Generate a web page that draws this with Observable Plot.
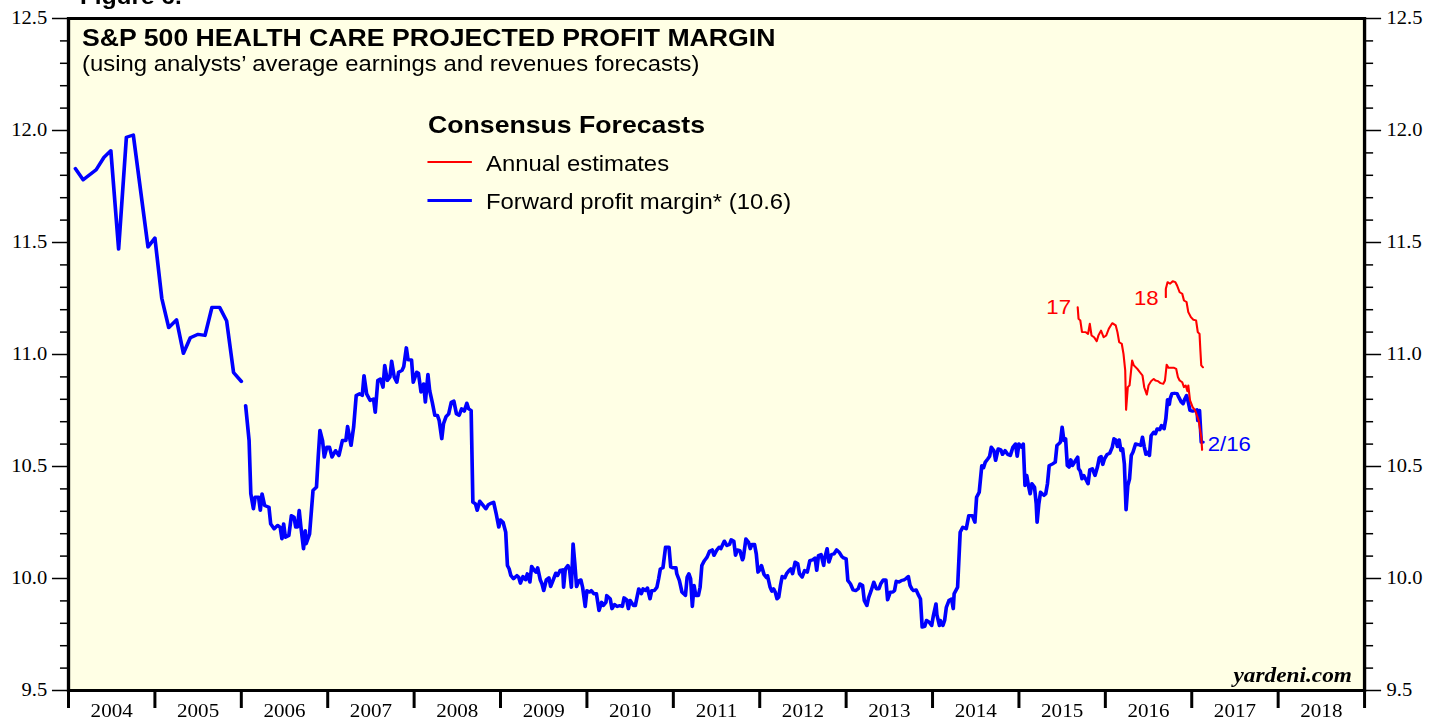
<!DOCTYPE html>
<html><head><meta charset="utf-8">
<script src="https://cdn.jsdelivr.net/npm/d3@7"></script>
<script src="https://cdn.jsdelivr.net/npm/@observablehq/plot@0.6"></script>
<style>
html,body{margin:0;padding:0;background:#fff;overflow:hidden}
#wrap{position:relative;width:1296px;height:719px;transform:scaleX(1.1103);transform-origin:0 0}
.ov{position:absolute;white-space:nowrap;font-family:"Liberation Sans",Arial,sans-serif;color:#000}
.b{font-weight:bold;font-size:24px;line-height:24px}
.r{font-size:21.5px;line-height:21px}
.sw{position:absolute;left:384.6px;width:40.5px}
</style></head><body>
<div id="wrap">
<div id="chart"></div>
<div class="ov b" style="left:72px;top:-14px;font-size:22px;line-height:22px">Figure 6.</div>
<div class="ov b" style="left:73.9px;top:26.4px">S&amp;P 500 HEALTH CARE PROJECTED PROFIT MARGIN</div>
<div class="ov r" style="left:73.9px;top:54px">(using analysts’ average earnings and revenues forecasts)</div>
<div class="ov b" style="left:385.5px;top:113px">Consensus Forecasts</div>
<div class="sw" style="top:161.3px;height:2px;background:#ff0000"></div>
<div class="ov r" style="left:437.7px;top:153.7px">Annual estimates</div>
<div class="sw" style="top:198.6px;height:3.3px;background:#0000ff"></div>
<div class="ov r" style="left:437.7px;top:192px">Forward profit margin* (10.6)</div>
<div class="ov" style="left:0;width:1217.7px;text-align:right;top:665px;font-family:'Liberation Serif',serif;font-weight:bold;font-style:italic;font-size:21px;line-height:20px">yardeni.com</div>
</div>
<script>
// Y-axis ticks
const yMajorTicks = [9.5, 10.0, 10.5, 11.0, 11.5, 12.0, 12.5];
const yMinorTicks = [9.6,9.7,9.8,9.9,10.1,10.2,10.3,10.4,10.6,10.7,10.8,10.9,11.1,11.2,11.3,11.4,11.6,11.7,11.8,11.9,12.1,12.2,12.3,12.4];
const yearBounds = [2004,2005,2006,2007,2008,2009,2010,2011,2012,2013,2014,2015,2016,2017,2018,2019];
const yearLabels = [2004,2005,2006,2007,2008,2009,2010,2011,2012,2013,2014,2015,2016,2017,2018];

// Forward profit margin, monthly 2004-2005
const fwdEarlyT = [2004.08,2004.17,2004.32,2004.41,2004.49,2004.58,2004.67,2004.75,2004.92,2005.00,2005.08,2005.16,2005.25,2005.33,2005.41,2005.50,2005.58,2005.66,2005.75,2005.83,2005.91,2006.00];
const fwdEarlyV = [11.83,11.78,11.825,11.88,11.91,11.47,11.97,11.98,11.48,11.52,11.25,11.12,11.155,11.005,11.075,11.09,11.085,11.21,11.21,11.15,10.92,10.88];

// Forward profit margin, weekly 2006 - 2/16/2017
const fwdT = [
2006.05,2006.09,2006.11,2006.14,2006.16,2006.20,2006.22,2006.24,2006.27,2006.32,2006.34,2006.38,2006.42,2006.45,2006.47,2006.49,2006.51,2006.55,2006.58,2006.61,2006.63,2006.65,2006.67,2006.69,2006.72,2006.74,2006.75,2006.79,2006.83,2006.87,2006.89,2006.91,2006.94,2006.96,2006.99,
2007.02,2007.05,2007.09,2007.13,2007.17,2007.21,2007.23,2007.27,2007.30,2007.33,2007.37,2007.40,2007.42,2007.45,2007.49,2007.53,2007.55,2007.58,2007.61,2007.64,2007.66,2007.69,2007.72,2007.74,2007.77,2007.80,2007.82,2007.86,2007.88,2007.91,2007.93,2007.97,2007.99,
2008.03,2008.05,2008.08,2008.11,2008.13,2008.16,2008.18,2008.21,2008.24,2008.27,2008.29,2008.32,2008.34,2008.37,2008.40,2008.43,2008.46,2008.49,2008.52,2008.55,2008.58,2008.61,2008.63,2008.66,2008.68,2008.71,2008.73,2008.76,2008.80,2008.83,2008.86,2008.89,2008.92,2008.95,2008.98,
2009.00,2009.03,2009.06,2009.08,2009.10,2009.12,2009.15,2009.19,2009.21,2009.23,2009.26,2009.29,2009.31,2009.34,2009.36,2009.39,2009.41,2009.43,2009.46,2009.48,2009.50,2009.53,2009.56,2009.58,2009.61,2009.64,2009.66,2009.69,2009.72,2009.73,2009.75,2009.78,2009.80,2009.82,2009.84,2009.86,2009.88,2009.91,2009.93,2009.95,2009.98,
2010.00,2010.03,2010.05,2010.08,2010.11,2010.14,2010.17,2010.19,2010.22,2010.23,2010.27,2010.29,2010.32,2010.35,2010.38,2010.41,2010.43,2010.46,2010.48,2010.50,2010.54,2010.56,2010.58,2010.60,2010.63,2010.65,2010.68,2010.70,2010.73,2010.75,2010.78,2010.81,2010.83,2010.85,2010.88,2010.91,2010.95,2010.97,2010.99,
2011.03,2011.04,2011.07,2011.10,2011.12,2011.14,2011.16,2011.18,2011.20,2011.22,2011.24,2011.26,2011.29,2011.31,2011.33,2011.36,2011.39,2011.42,2011.45,2011.47,2011.50,2011.53,2011.55,2011.59,2011.62,2011.65,2011.67,2011.70,2011.72,2011.74,2011.77,2011.80,2011.81,2011.84,2011.87,2011.89,2011.91,2011.94,2011.96,2011.98,
2012.00,2012.02,2012.05,2012.08,2012.09,2012.12,2012.14,2012.16,2012.18,2012.20,2012.22,2012.24,2012.26,2012.29,2012.31,2012.34,2012.36,2012.38,2012.41,2012.44,2012.46,2012.49,2012.52,2012.55,2012.58,2012.61,2012.64,2012.66,2012.68,2012.71,2012.74,2012.75,2012.78,2012.80,2012.83,2012.86,2012.89,2012.92,2012.95,2012.97,
2013.00,2013.02,2013.05,2013.08,2013.11,2013.14,2013.16,2013.19,2013.21,2013.24,2013.26,2013.29,2013.32,2013.35,2013.38,2013.40,2013.43,2013.46,2013.48,2013.51,2013.54,2013.56,2013.58,2013.61,2013.64,2013.67,2013.69,2013.72,2013.74,2013.76,2013.78,2013.81,2013.84,2013.86,2013.88,2013.91,2013.93,2013.96,2013.99,
2014.01,2014.04,2014.05,2014.08,2014.09,2014.12,2014.14,2014.16,2014.19,2014.22,2014.24,2014.25,2014.29,2014.32,2014.35,2014.39,2014.42,2014.46,2014.49,2014.51,2014.54,2014.57,2014.59,2014.61,2014.64,2014.66,2014.68,2014.71,2014.73,2014.76,2014.79,2014.81,2014.84,2014.87,2014.90,2014.93,2014.96,2014.98,
2015.00,2015.03,2015.05,2015.07,2015.09,2015.11,2015.13,2015.15,2015.18,2015.20,2015.21,2015.23,2015.25,2015.29,2015.31,2015.33,2015.35,2015.39,2015.42,2015.44,2015.46,2015.48,2015.50,2015.52,2015.54,2015.56,2015.58,2015.60,2015.62,2015.65,2015.68,2015.69,2015.71,2015.73,2015.75,2015.78,2015.80,2015.82,2015.85,2015.88,2015.91,2015.93,2015.95,2015.97,2015.99,
2016.02,2016.05,2016.08,2016.10,2016.12,2016.14,2016.16,2016.18,2016.20,2016.22,2016.24,2016.26,2016.28,2016.30,2016.32,2016.35,2016.38,2016.41,2016.43,2016.45,2016.47,2016.49,2016.51,2016.53,2016.56,2016.58,2016.60,2016.63,2016.65,2016.68,2016.70,2016.72,2016.74,2016.75,2016.77,2016.80,2016.83,2016.85,2016.88,2016.90,2016.92,2016.94,2016.96,2016.98,
2017.01,2017.04,2017.06,2017.07,2017.09,2017.11,2017.13];
const fwdV = [
10.772,10.616,10.378,10.311,10.363,10.363,10.304,10.378,10.326,10.318,10.244,10.222,10.237,10.229,10.177,10.244,10.184,10.192,10.281,10.274,10.229,10.229,10.304,10.229,10.132,10.214,10.155,10.199,10.393,10.408,10.542,10.661,10.616,10.542,10.586,
10.586,10.542,10.571,10.549,10.616,10.616,10.679,10.594,10.676,10.817,10.825,10.817,10.906,10.825,10.795,10.802,10.742,10.884,10.891,10.854,10.951,10.884,10.899,10.970,10.899,10.876,10.921,10.929,10.946,11.030,10.976,10.976,10.876,
10.921,10.917,10.832,10.869,10.787,10.911,10.839,10.787,10.728,10.728,10.705,10.624,10.691,10.723,10.735,10.787,10.792,10.735,10.728,10.758,10.747,10.783,10.758,10.750,10.341,10.333,10.304,10.345,10.326,10.311,10.330,10.336,10.341,10.289,10.229,
10.262,10.251,10.207,10.058,10.043,10.013,9.999,10.013,10.006,9.979,10.009,9.994,10.021,9.984,10.054,10.036,10.028,10.048,9.994,9.976,9.946,9.994,10.003,9.964,9.994,10.024,10.013,10.036,10.039,9.961,10.043,10.058,10.036,9.961,10.155,10.066,9.964,9.991,9.994,9.961,9.875,
9.946,9.939,9.946,9.932,9.932,9.857,9.894,9.879,9.894,9.924,9.909,9.865,9.884,9.875,9.879,9.875,9.914,9.905,9.865,9.902,9.879,9.879,9.917,9.954,9.932,9.954,9.946,9.958,9.909,9.946,9.946,9.961,9.999,10.043,10.048,10.140,10.140,10.051,10.048,
10.048,10.021,9.991,9.939,9.932,9.924,10.006,10.021,9.999,9.875,9.969,9.924,9.924,9.961,10.058,10.080,10.095,10.122,10.128,10.103,10.125,10.140,10.133,10.167,10.147,10.152,10.173,10.167,10.103,10.128,10.125,10.083,10.092,10.177,10.162,10.133,10.152,10.152,10.110,10.028,
10.039,10.058,10.018,10.003,10.013,9.961,9.943,9.954,9.939,9.909,9.917,9.969,10.009,10.003,10.021,10.036,10.043,10.021,10.073,10.066,10.021,10.006,10.036,10.028,10.080,10.083,10.092,10.036,10.103,10.107,10.058,10.088,10.133,10.073,10.107,10.110,10.128,10.117,10.098,10.092,
10.088,9.991,9.976,9.949,9.946,9.954,9.976,9.969,9.902,9.879,9.914,9.946,9.984,9.954,9.954,9.976,9.994,9.994,9.905,9.939,9.939,9.946,9.988,9.984,9.991,9.994,9.999,10.009,9.969,9.954,9.946,9.949,9.924,9.909,9.783,9.786,9.813,9.805,9.790,
9.835,9.887,9.839,9.790,9.813,9.790,9.813,9.872,9.902,9.909,9.865,9.932,9.961,10.207,10.229,10.222,10.281,10.281,10.251,10.363,10.385,10.504,10.494,10.519,10.534,10.545,10.586,10.571,10.527,10.579,10.575,10.554,10.571,10.554,10.549,10.586,10.601,10.545,
10.601,10.586,10.601,10.415,10.460,10.415,10.378,10.423,10.408,10.333,10.251,10.333,10.385,10.371,10.378,10.423,10.504,10.512,10.519,10.594,10.601,10.609,10.676,10.616,10.624,10.504,10.497,10.530,10.504,10.524,10.542,10.490,10.479,10.445,10.460,10.438,10.423,10.485,10.490,10.460,10.500,10.539,10.545,10.509,10.534,
10.554,10.559,10.586,10.624,10.619,10.589,10.619,10.571,10.579,10.512,10.307,10.415,10.445,10.549,10.564,10.601,10.598,10.594,10.631,10.589,10.554,10.564,10.549,10.638,10.653,10.646,10.668,10.664,10.683,10.668,10.713,10.798,10.777,10.802,10.825,10.827,10.825,10.809,10.787,10.780,10.802,10.817,10.787,10.750,
10.747,10.750,10.753,10.705,10.750,10.609,10.609];

// Annual estimates, 2017
const est17T = [2015.68,2015.69,2015.71,2015.73,2015.77,2015.80,2015.82,2015.84,2015.87,2015.90,2015.92,2015.95,2015.98,2016.01,2016.04,2016.08,2016.12,2016.14,2016.16,2016.19,2016.21,2016.23,2016.24,2016.26,2016.28,2016.31,2016.33,2016.37,2016.40,2016.43,2016.45,2016.48,2016.50,2016.53,2016.56,2016.58,2016.61,2016.64,2016.67,2016.69,2016.71,2016.73,2016.76,2016.79,2016.82,2016.84,2016.86,2016.89,2016.91,2016.93,2016.95,2016.96,2016.98,2017.01,2017.04,2017.08,2017.11,2017.12];
const est17V = [11.211,11.159,11.152,11.100,11.100,11.092,11.137,11.085,11.077,11.059,11.085,11.107,11.077,11.085,11.115,11.140,11.130,11.100,11.055,11.048,11.003,10.929,10.753,10.854,10.862,10.973,10.951,10.936,10.921,10.906,10.854,10.821,10.862,10.881,10.891,10.884,10.881,10.872,10.869,10.884,10.955,10.941,10.941,10.941,10.936,10.899,10.884,10.876,10.854,10.862,10.836,10.862,10.795,10.765,10.750,10.705,10.631,10.574];

// Annual estimates, 2018
const est18T = [2016.70,2016.70,2016.72,2016.75,2016.78,2016.81,2016.83,2016.86,2016.89,2016.91,2016.94,2016.96,2016.99,2017.02,2017.05,2017.07,2017.09,2017.10,2017.11,2017.13];
const est18V = [11.256,11.293,11.323,11.316,11.327,11.323,11.308,11.278,11.271,11.241,11.234,11.189,11.167,11.155,11.152,11.100,11.092,11.018,10.951,10.943];

const zip = (T, V) => T.map((t, i) => ({t, v: V[i]}));
const fwdEarly = zip(fwdEarlyT, fwdEarlyV);
const fwd = zip(fwdT, fwdV);
const est17 = zip(est17T, est17V);
const est18 = zip(est18T, est18V);

const BLUE = "#0000ff", RED = "#ff0000";
const sans = "'Liberation Sans', Arial, sans-serif";

const chart = Plot.plot({
  width: 1296, height: 719,
  marginLeft: 61.2, marginRight: 67.5, marginTop: 18, marginBottom: 29,
  x: {type: "linear", domain: [2004, 2019], label: null},
  y: {domain: [9.5, 12.5], label: null},
  style: {fontFamily: "'Liberation Serif', 'Times New Roman', serif", fontSize: "18px", background: "white", overflow: "visible", color: "black"},
  marks: [
    Plot.frame({fill: "#ffffe5"}),
    Plot.axisY({anchor: "left", ticks: yMinorTicks, tickSize: 7.2, tickFormat: () => "", label: null, strokeWidth: 1.5}),
    Plot.axisY({anchor: "left", ticks: yMajorTicks, tickSize: 14.4, tickPadding: 4.8, tickFormat: d3.format(".1f"), label: null, strokeWidth: 1.5, fontSize: 18.5}),
    Plot.axisY({anchor: "right", ticks: yMinorTicks, tickSize: 7.2, tickFormat: () => "", label: null, strokeWidth: 1.5}),
    Plot.axisY({anchor: "right", ticks: yMajorTicks, tickSize: 14.4, tickPadding: 5.4, tickFormat: d3.format(".1f"), label: null, strokeWidth: 1.5, fontSize: 18.5}),
    Plot.axisX({anchor: "bottom", ticks: yearBounds, tickSize: 18, strokeWidth: 2.7, tickFormat: () => "", label: null}),
    Plot.axisX({anchor: "bottom", ticks: yearLabels.map(y => y + 0.5), tickSize: 0, tickPadding: 13, tickFormat: d => String(Math.round(d - 0.5)), label: null, fontSize: 19}),
    Plot.line(fwdEarly, {x: "t", y: "v", stroke: BLUE, strokeWidth: 3.3, strokeLinejoin: "round"}),
    Plot.line(fwd, {x: "t", y: "v", stroke: BLUE, strokeWidth: 3.3, strokeLinejoin: "round"}),
    Plot.line(est17, {x: "t", y: "v", stroke: RED, strokeWidth: 1.9, strokeLinejoin: "round"}),
    Plot.line(est18, {x: "t", y: "v", stroke: RED, strokeWidth: 1.9, strokeLinejoin: "round"}),
    Plot.text(est17, Plot.selectFirst({x: "t", y: "v", text: () => "17", textAnchor: "end", dx: -6, fill: RED, fontFamily: sans, fontSize: 20})),
    Plot.text(est18, Plot.selectFirst({x: "t", y: "v", text: () => "18", textAnchor: "end", dx: -6.5, dy: 1, fill: RED, fontFamily: sans, fontSize: 20})),
    Plot.text(fwd, Plot.selectLast({x: "t", y: "v", text: () => "2/16", textAnchor: "start", dx: 4.3, dy: 2.5, fill: BLUE, fontFamily: sans, fontSize: 20})),
    Plot.frame({stroke: "black", strokeWidth: 3})
  ]
});
document.getElementById("chart").appendChild(chart);
</script>
</body></html>
